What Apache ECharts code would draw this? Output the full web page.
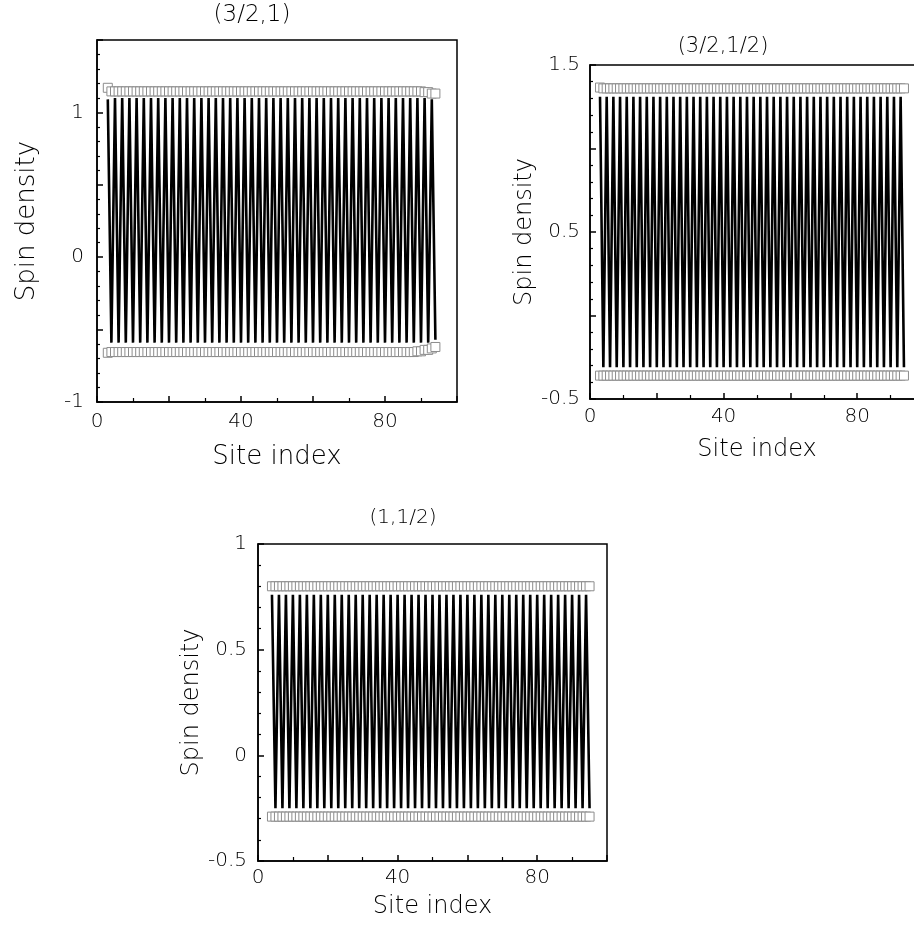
<!DOCTYPE html>
<html>
<head lang="en">
    <meta charset="UTF-8">
    <title>Spin density</title>
    <style>
        html, body {margin: 0; padding: 0; background: #fff;}
        #main {width: 914px; height: 925px;}
    </style>
</head>
<body>
<div id="main"></div>
<script src="https://cdn.jsdelivr.net/npm/echarts@6/dist/echarts.min.js"></script>
<script>
    // site index of each panel
    var sitesA = [3,4,5,6,7,8,9,10,11,12,13,14,15,16,17,18,19,20,21,22,23,24,25,26,27,28,29,30,31,32,33,34,35,36,37,38,39,40,41,42,43,44,45,46,47,48,
        49,50,51,52,53,54,55,56,57,58,59,60,61,62,63,64,65,66,67,68,69,70,71,72,73,74,75,76,77,78,79,80,81,82,83,84,85,86,87,88,89,90,91,92,93,94];
    var sitesB = [4,5,6,7,8,9,10,11,12,13,14,15,16,17,18,19,20,21,22,23,24,25,26,27,28,29,30,31,32,33,34,35,36,37,38,39,40,41,42,43,44,45,46,47,48,49,
        50,51,52,53,54,55,56,57,58,59,60,61,62,63,64,65,66,67,68,69,70,71,72,73,74,75,76,77,78,79,80,81,82,83,84,85,86,87,88,89,90,91,92,93,94,95];

    // (3/2,1)
    var lineA = [1.09,-0.59,1.10,-0.59,1.10,-0.59,1.10,-0.59,1.10,-0.59,1.10,-0.59,1.10,-0.59,1.10,-0.59,1.10,-0.59,1.10,-0.59,
        1.10,-0.59,1.10,-0.59,1.10,-0.59,1.10,-0.59,1.10,-0.59,1.10,-0.59,1.10,-0.59,1.10,-0.59,1.10,-0.59,1.10,-0.59,
        1.10,-0.59,1.10,-0.59,1.10,-0.59,1.10,-0.59,1.10,-0.59,1.10,-0.59,1.10,-0.59,1.10,-0.59,1.10,-0.59,1.10,-0.59,
        1.10,-0.59,1.10,-0.59,1.10,-0.59,1.10,-0.59,1.10,-0.59,1.10,-0.59,1.10,-0.59,1.10,-0.59,1.10,-0.59,1.10,-0.59,
        1.10,-0.59,1.10,-0.59,1.10,-0.59,1.10,-0.59,1.10,-0.59,1.09,-0.57];
    var topA = [1.17,1.145,1.145,1.145,1.145,1.145,1.145,1.145,1.145,1.145,1.145,1.145,1.145,1.145,1.145,1.145,1.145,1.145,1.145,1.145,
        1.145,1.145,1.145,1.145,1.145,1.145,1.145,1.145,1.145,1.145,1.145,1.145,1.145,1.145,1.145,1.145,1.145,1.145,1.145,1.145,
        1.145,1.145,1.145,1.145,1.145,1.145,1.145,1.145,1.145,1.145,1.145,1.145,1.145,1.145,1.145,1.145,1.145,1.145,1.145,1.145,
        1.145,1.145,1.145,1.145,1.145,1.145,1.145,1.145,1.145,1.145,1.145,1.145,1.145,1.145,1.145,1.145,1.145,1.145,1.145,1.145,
        1.145,1.145,1.145,1.145,1.145,1.145,1.145,1.145,1.14,1.14,1.13,1.13];
    var botA = [-0.66,-0.655,-0.655,-0.655,-0.655,-0.655,-0.655,-0.655,-0.655,-0.655,-0.655,-0.655,-0.655,-0.655,-0.655,-0.655,-0.655,-0.655,-0.655,-0.655,
        -0.655,-0.655,-0.655,-0.655,-0.655,-0.655,-0.655,-0.655,-0.655,-0.655,-0.655,-0.655,-0.655,-0.655,-0.655,-0.655,-0.655,-0.655,-0.655,-0.655,
        -0.655,-0.655,-0.655,-0.655,-0.655,-0.655,-0.655,-0.655,-0.655,-0.655,-0.655,-0.655,-0.655,-0.655,-0.655,-0.655,-0.655,-0.655,-0.655,-0.655,
        -0.655,-0.655,-0.655,-0.655,-0.655,-0.655,-0.655,-0.655,-0.655,-0.655,-0.655,-0.655,-0.655,-0.655,-0.655,-0.655,-0.655,-0.655,-0.655,-0.655,
        -0.655,-0.655,-0.655,-0.655,-0.655,-0.655,-0.65,-0.65,-0.64,-0.64,-0.63,-0.62];

    // (3/2,1/2)
    var lineB = [1.31,-0.31,1.31,-0.31,1.31,-0.31,1.31,-0.31,1.31,-0.31,1.31,-0.31,1.31,-0.31,1.31,-0.31,1.31,-0.31,1.31,-0.31,
        1.31,-0.31,1.31,-0.31,1.31,-0.31,1.31,-0.31,1.31,-0.31,1.31,-0.31,1.31,-0.31,1.31,-0.31,1.31,-0.31,1.31,-0.31,
        1.31,-0.31,1.31,-0.31,1.31,-0.31,1.31,-0.31,1.31,-0.31,1.31,-0.31,1.31,-0.31,1.31,-0.31,1.31,-0.31,1.31,-0.31,
        1.31,-0.31,1.31,-0.31,1.31,-0.31,1.31,-0.31,1.31,-0.31,1.31,-0.31,1.31,-0.31,1.31,-0.31,1.31,-0.31,1.31,-0.31,
        1.31,-0.31,1.31,-0.31,1.31,-0.31,1.31,-0.31,1.31,-0.31,1.31,-0.31];
    var topB = [1.365,1.36,1.36,1.36,1.36,1.36,1.36,1.36,1.36,1.36,1.36,1.36,1.36,1.36,1.36,1.36,1.36,1.36,1.36,1.36,
        1.36,1.36,1.36,1.36,1.36,1.36,1.36,1.36,1.36,1.36,1.36,1.36,1.36,1.36,1.36,1.36,1.36,1.36,1.36,1.36,
        1.36,1.36,1.36,1.36,1.36,1.36,1.36,1.36,1.36,1.36,1.36,1.36,1.36,1.36,1.36,1.36,1.36,1.36,1.36,1.36,
        1.36,1.36,1.36,1.36,1.36,1.36,1.36,1.36,1.36,1.36,1.36,1.36,1.36,1.36,1.36,1.36,1.36,1.36,1.36,1.36,
        1.36,1.36,1.36,1.36,1.36,1.36,1.36,1.36,1.36,1.36,1.36,1.36];
    var botB = [-0.36,-0.36,-0.36,-0.36,-0.36,-0.36,-0.36,-0.36,-0.36,-0.36,-0.36,-0.36,-0.36,-0.36,-0.36,-0.36,-0.36,-0.36,-0.36,-0.36,
        -0.36,-0.36,-0.36,-0.36,-0.36,-0.36,-0.36,-0.36,-0.36,-0.36,-0.36,-0.36,-0.36,-0.36,-0.36,-0.36,-0.36,-0.36,-0.36,-0.36,
        -0.36,-0.36,-0.36,-0.36,-0.36,-0.36,-0.36,-0.36,-0.36,-0.36,-0.36,-0.36,-0.36,-0.36,-0.36,-0.36,-0.36,-0.36,-0.36,-0.36,
        -0.36,-0.36,-0.36,-0.36,-0.36,-0.36,-0.36,-0.36,-0.36,-0.36,-0.36,-0.36,-0.36,-0.36,-0.36,-0.36,-0.36,-0.36,-0.36,-0.36,
        -0.36,-0.36,-0.36,-0.36,-0.36,-0.36,-0.36,-0.36,-0.36,-0.36,-0.36,-0.36];

    // (1,1/2)
    var lineC = [0.76,-0.25,0.76,-0.25,0.76,-0.25,0.76,-0.25,0.76,-0.25,0.76,-0.25,0.76,-0.25,0.76,-0.25,0.76,-0.25,0.76,-0.25,
        0.76,-0.25,0.76,-0.25,0.76,-0.25,0.76,-0.25,0.76,-0.25,0.76,-0.25,0.76,-0.25,0.76,-0.25,0.76,-0.25,0.76,-0.25,
        0.76,-0.25,0.76,-0.25,0.76,-0.25,0.76,-0.25,0.76,-0.25,0.76,-0.25,0.76,-0.25,0.76,-0.25,0.76,-0.25,0.76,-0.25,
        0.76,-0.25,0.76,-0.25,0.76,-0.25,0.76,-0.25,0.76,-0.25,0.76,-0.25,0.76,-0.25,0.76,-0.25,0.76,-0.25,0.76,-0.25,
        0.76,-0.25,0.76,-0.25,0.76,-0.25,0.76,-0.25,0.76,-0.25,0.76,-0.25];
    var topC = [0.80,0.80,0.80,0.80,0.80,0.80,0.80,0.80,0.80,0.80,0.80,0.80,0.80,0.80,0.80,0.80,0.80,0.80,0.80,0.80,
        0.80,0.80,0.80,0.80,0.80,0.80,0.80,0.80,0.80,0.80,0.80,0.80,0.80,0.80,0.80,0.80,0.80,0.80,0.80,0.80,
        0.80,0.80,0.80,0.80,0.80,0.80,0.80,0.80,0.80,0.80,0.80,0.80,0.80,0.80,0.80,0.80,0.80,0.80,0.80,0.80,
        0.80,0.80,0.80,0.80,0.80,0.80,0.80,0.80,0.80,0.80,0.80,0.80,0.80,0.80,0.80,0.80,0.80,0.80,0.80,0.80,
        0.80,0.80,0.80,0.80,0.80,0.80,0.80,0.80,0.80,0.80,0.80,0.80];
    var botC = [-0.29,-0.29,-0.29,-0.29,-0.29,-0.29,-0.29,-0.29,-0.29,-0.29,-0.29,-0.29,-0.29,-0.29,-0.29,-0.29,-0.29,-0.29,-0.29,-0.29,
        -0.29,-0.29,-0.29,-0.29,-0.29,-0.29,-0.29,-0.29,-0.29,-0.29,-0.29,-0.29,-0.29,-0.29,-0.29,-0.29,-0.29,-0.29,-0.29,-0.29,
        -0.29,-0.29,-0.29,-0.29,-0.29,-0.29,-0.29,-0.29,-0.29,-0.29,-0.29,-0.29,-0.29,-0.29,-0.29,-0.29,-0.29,-0.29,-0.29,-0.29,
        -0.29,-0.29,-0.29,-0.29,-0.29,-0.29,-0.29,-0.29,-0.29,-0.29,-0.29,-0.29,-0.29,-0.29,-0.29,-0.29,-0.29,-0.29,-0.29,-0.29,
        -0.29,-0.29,-0.29,-0.29,-0.29,-0.29,-0.29,-0.29,-0.29,-0.29,-0.29,-0.29];

    var FONT = 'DejaVu Sans';

    function pairs(xs, ys) {
        return xs.map(function (x, i) { return [x, ys[i]]; });
    }

    function xAxisOf(grid, nameSize, nameGap, labelMargin) {
        return {
            type: 'value', gridIndex: grid, min: 0, max: 100, interval: 20,
            name: 'Site index', nameLocation: 'middle', nameGap: nameGap,
            nameTextStyle: {fontFamily: FONT, fontSize: nameSize, fontWeight: 200, color: '#000'},
            axisLine: {show: true, onZero: false, lineStyle: {color: '#000', width: 1.5}},
            axisTick: {show: true, inside: true, length: 6, lineStyle: {color: '#000', width: 1.5}},
            minorTick: {show: true, splitNumber: 2, length: 4, lineStyle: {color: '#000', width: 1.2}},
            axisLabel: {
                margin: labelMargin, fontFamily: FONT, fontSize: 20, fontWeight: 200, color: '#000',
                formatter: function (v) { return (v % 40 === 0 && v < 100) ? String(v) : ''; }
            },
            splitLine: {show: false}
        };
    }

    function yAxisOf(grid, min, max, fmt, nameSize, nameGap, labelMargin) {
        return {
            type: 'value', gridIndex: grid, min: min, max: max, interval: 0.5,
            name: 'Spin density', nameLocation: 'middle', nameGap: nameGap,
            nameTextStyle: {fontFamily: FONT, fontSize: nameSize, fontWeight: 200, color: '#000'},
            axisLine: {show: true, onZero: false, lineStyle: {color: '#000', width: 1.5}},
            axisTick: {show: true, inside: true, length: 6, lineStyle: {color: '#000', width: 1.5}},
            minorTick: {show: true, splitNumber: 5, length: 3, lineStyle: {color: '#000', width: 1.2}},
            axisLabel: {margin: labelMargin, fontFamily: FONT, fontSize: 20, fontWeight: 200, color: '#000', formatter: fmt},
            splitLine: {show: false}
        };
    }

    function near(a, b) { return Math.abs(a - b) < 1e-6; }

    // line (zigzag) + two rows of open squares
    function panelSeries(idx, sites, line, top, bot) {
        var sq = {
            type: 'scatter', xAxisIndex: idx, yAxisIndex: idx, symbol: 'rect', symbolSize: 9, z: 3,
            itemStyle: {color: '#fff', borderColor: '#8c8c8c', borderWidth: 1, opacity: 1}
        };
        return [
            {
                type: 'line', xAxisIndex: idx, yAxisIndex: idx, data: pairs(sites, line),
                showSymbol: false, symbol: 'none', z: 2,
                lineStyle: {color: '#000', width: 2.6}
            },
            echarts.util.extend({data: pairs(sites, top)}, sq),
            echarts.util.extend({data: pairs(sites, bot)}, sq)
        ];
    }

    var gridBase = {show: true, borderColor: '#000', borderWidth: 1.5, backgroundColor: 'transparent', outerBoundsMode: 'none', containLabel: false};

    var myChart = echarts.init(document.getElementById('main'));
    var option = {
        animation: false,
        backgroundColor: '#fff',
        grid: [
            echarts.util.extend({left: 97, top: 40, width: 360, height: 362}, gridBase),
            echarts.util.extend({left: 590, top: 65, width: 334, height: 334}, gridBase),
            echarts.util.extend({left: 258, top: 544, width: 349, height: 317}, gridBase)
        ],
        xAxis: [
            xAxisOf(0, 26, 42, 10),
            xAxisOf(1, 24, 39, 8),
            xAxisOf(2, 24, 34, 7)
        ],
        yAxis: [
            yAxisOf(0, -1, 1.5, function (v) { return near(v, Math.round(v)) ? String(Math.round(v)) : ''; }, 26, 57, 13),
            yAxisOf(1, -0.5, 1.5, function (v) { return near((v + 0.5) % 1, 0) ? String(v) : ''; }, 24, 53, 10),
            yAxisOf(2, -0.5, 1, function (v) { return String(v); }, 24, 54, 11)
        ],
        graphic: [
            {type: 'text', x: 252, y: 15, style: {text: '(3/2,1)', font: '200 23px "DejaVu Sans"', fill: '#000', align: 'center', verticalAlign: 'middle'}},
            {type: 'text', x: 723, y: 47, style: {text: '(3/2,1/2)', font: '200 21px "DejaVu Sans"', fill: '#000', align: 'center', verticalAlign: 'middle'}},
            {type: 'text', x: 403, y: 518, style: {text: '(1,1/2)', font: '200 20px "DejaVu Sans"', fill: '#000', align: 'center', verticalAlign: 'middle'}}
        ],
        series: [].concat(
            panelSeries(0, sitesA, lineA, topA, botA),
            panelSeries(1, sitesA, lineB, topB, botB),
            panelSeries(2, sitesB, lineC, topC, botC)
        )
    };
    myChart.setOption(option);
</script>
</body>
</html>
